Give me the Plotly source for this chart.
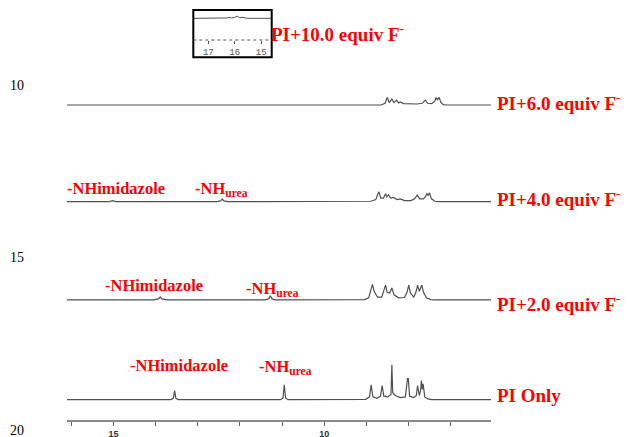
import plotly.graph_objects as go

# ---------------- data ----------------
# chemical shift (ppm) / intensity pairs of each 1H NMR trace
ppm_pi_only = [16.10, 13.64, 13.58, 13.55, 13.52, 13.46, 11.04, 10.98, 10.95, 10.92, 10.86,
               9.02, 8.93, 8.89, 8.85, 8.75, 8.67, 8.63, 8.59, 8.50, 8.42, 8.40, 8.38, 8.32,
               8.20, 8.08, 8.03, 8.01, 7.98, 7.88, 7.82, 7.79, 7.75, 7.72, 7.70, 7.68, 7.66,
               7.62, 7.55, 7.45, 6.05]
int_pi_only = [0, 0, 0.04, 0.26, 0.04, 0, 0, 0.05, 0.43, 0.05, 0,
               0.01, 0.08, 0.43, 0.08, 0.04, 0.10, 0.41, 0.10, 0.08, 0.15, 1.01, 0.20, 0.12,
               0.06, 0.08, 0.61, 0.61, 0.10, 0.06, 0.12, 0.41, 0.12, 0.25, 0.55, 0.30, 0.46,
               0.08, 0.02, 0, 0]

ppm_pi_2 = [16.10, 14.05, 13.93, 13.89, 13.85, 13.73, 11.40, 11.32, 11.28, 11.24, 11.16,
            9.05, 8.95, 8.90, 8.86, 8.82, 8.74, 8.64, 8.59, 8.55, 8.51, 8.45, 8.40, 8.35,
            8.24, 8.10, 8.04, 8.00, 7.96, 7.88, 7.83, 7.79, 7.75, 7.72, 7.69, 7.65, 7.58,
            7.48, 7.40, 6.05]
int_pi_2 = [0, 0, 0.03, 0.09, 0.03, 0, 0, 0.03, 0.12, 0.03, 0,
            0.01, 0.06, 0.25, 0.45, 0.25, 0.08, 0.08, 0.25, 0.43, 0.22, 0.20, 0.35, 0.15,
            0.06, 0.07, 0.22, 0.43, 0.20, 0.08, 0.22, 0.43, 0.25, 0.32, 0.43, 0.22, 0.06,
            0.01, 0, 0]

ppm_pi_4 = [16.10, 15.10, 15.02, 14.94, 12.55, 12.46, 12.42, 12.38, 12.28,
            8.90, 8.78, 8.71, 8.66, 8.60, 8.55, 8.52, 8.48, 8.43, 8.36, 8.28, 8.20, 8.10,
            7.95, 7.86, 7.80, 7.74, 7.65, 7.60, 7.57, 7.54, 7.51, 7.46, 7.38, 7.30, 6.05]
int_pi_4 = [0, 0, 0.03, 0, 0, 0.02, 0.07, 0.02, 0,
            0.01, 0.06, 0.29, 0.10, 0.10, 0.23, 0.14, 0.20, 0.10, 0.12, 0.06, 0.08, 0.03,
            0.03, 0.08, 0.19, 0.08, 0.08, 0.15, 0.23, 0.18, 0.26, 0.08, 0.01, 0, 0]

ppm_pi_6 = [16.10, 8.66, 8.56, 8.51, 8.46, 8.40, 8.35, 8.29, 8.24, 8.20, 8.12, 7.95,
            7.80, 7.68, 7.61, 7.55, 7.45, 7.38, 7.35, 7.32, 7.28, 7.24, 7.18, 7.10, 6.05]
int_pi_6 = [0, 0, 0.05, 0.22, 0.07, 0.17, 0.07, 0.14, 0.06, 0.09, 0.04, 0.03,
            0.03, 0.05, 0.14, 0.05, 0.04, 0.12, 0.22, 0.15, 0.22, 0.08, 0.01, 0, 0]

ppm_pi_10 = [17.57, 16.60, 16.30, 16.20, 16.12, 16.00, 15.90, 15.82, 15.70, 15.60, 15.50, 14.60]
int_pi_10 = [0, 0, 0.01, 0.03, 0.01, 0.03, 0.06, 0.02, 0.03, 0.01, 0, 0]

x_ticks = [16, 15, 14, 13, 12, 11, 10, 9, 8, 7]
x_tick_labels = ["", "15", "", "", "", "", "10", "", "", ""]
inset_ticks = [17, 16, 15]
y_ticks = [10, 15, 20]

trace_names = ["PI+6.0 equiv F<sup>-</sup>", "PI+4.0 equiv F<sup>-</sup>",
               "PI+2.0 equiv F<sup>-</sup>", "PI Only"]

# ---------------- layout helpers ----------------
offsets = [10.58, 13.38, 16.23, 19.12]   # baseline of each stacked trace (y-axis units)
label_y = [10.48, 13.28, 16.32, 19.01]
LINE = dict(color="#505050", width=1.2)
RED = "#ff0000"
SERIF = "Liberation Serif"

fig = go.Figure()
spectra = [(ppm_pi_6, int_pi_6), (ppm_pi_4, int_pi_4), (ppm_pi_2, int_pi_2), (ppm_pi_only, int_pi_only)]
for (px, iy), off, name in zip(spectra, offsets, trace_names):
    fig.add_trace(go.Scatter(x=px, y=[off - v for v in iy], mode="lines", line=LINE,
                             name=name, showlegend=False, hoverinfo="skip"))

# inset spectrum
fig.add_trace(go.Scatter(x=ppm_pi_10, y=int_pi_10, mode="lines", line=dict(color="#505050", width=1),
                         xaxis="x2", yaxis="y2", showlegend=False, hoverinfo="skip"))

inset_x = [0.2979, 0.4828]
inset_y = [0.8775, 0.9883]
inset_axis_pos = 0.918

fig.update_layout(
    width=628, height=437,
    margin=dict(l=67, r=137, t=5, b=5, autoexpand=False),
    paper_bgcolor="white", plot_bgcolor="white",
    xaxis=dict(range=[16.1, 6.05], anchor="free", position=0.0246, automargin=False,
               showgrid=False, zeroline=False, showline=True, linecolor="#8a8a8a", linewidth=1.5,
               ticks="outside", ticklen=4, tickcolor="#666", tickwidth=1,
               tickvals=x_ticks, ticktext=x_tick_labels, ticklabeloverflow="allow",
               tickfont=dict(family="Liberation Sans", size=9, color="#333", weight="bold")),
    yaxis=dict(range=[20.058, 7.681], showgrid=False, zeroline=False, showline=False,
               automargin=False, tickvals=y_ticks, ticks="", ticklabelstandoff=42,
               ticklabeloverflow="allow",
               tickfont=dict(family=SERIF, size=14, color="black")),
    xaxis2=dict(domain=inset_x, range=[17.57, 14.6], anchor="free", position=inset_axis_pos,
                automargin=False, showgrid=False, zeroline=False, showline=False,
                ticks="outside", ticklen=3, tickcolor="#555", tickvals=inset_ticks,
                tickfont=dict(family="Liberation Mono", size=9, color="#555")),
    yaxis2=dict(domain=inset_y, range=[-1.13, 0.241], anchor="x2", visible=False, automargin=False),
)

# inset frame and dotted axis line
fig.add_shape(type="rect", xref="paper", yref="paper", x0=inset_x[0], x1=inset_x[1],
              y0=inset_y[0], y1=inset_y[1], line=dict(color="black", width=2))
fig.add_shape(type="line", xref="paper", yref="paper", x0=inset_x[0], x1=inset_x[1],
              y0=inset_axis_pos, y1=inset_axis_pos, line=dict(color="#555", width=1, dash="dot"))

# right-hand trace labels
for name, ly in zip(trace_names, label_y):
    fig.add_annotation(x=1.0105, xref="paper", y=ly, yref="y", text=name, showarrow=False,
                       xanchor="left", yanchor="middle",
                       font=dict(family=SERIF, size=19, color=RED, weight="bold"))
fig.add_annotation(x=0.4775, xref="paper", y=8.49, yref="y", text="PI+10.0 equiv F<sup>-</sup>",
                   showarrow=False, xanchor="left", yanchor="middle",
                   font=dict(family=SERIF, size=19, color=RED, weight="bold"))

# NH peak labels
nh_labels = [
    ("-NHimidazole", 16.09, 13.01), ("-NH<sub>urea</sub>", 13.06, 13.02),
    ("-NHimidazole", 15.19, 15.82), ("-NH<sub>urea</sub>", 11.85, 15.92),
    ("-NHimidazole", 14.60, 18.14), ("-NH<sub>urea</sub>", 11.56, 18.18),
]
for txt, lx, ly in nh_labels:
    fig.add_annotation(x=lx, y=ly, xref="x", yref="y", text=txt, showarrow=False,
                       xanchor="left", yanchor="middle", xshift=-2,
                       font=dict(family=SERIF, size=16.5, color=RED, weight="bold"))

fig.write_html("out.html", config={"displayModeBar": False},
               post_script="document.body.style.margin='0px';")
